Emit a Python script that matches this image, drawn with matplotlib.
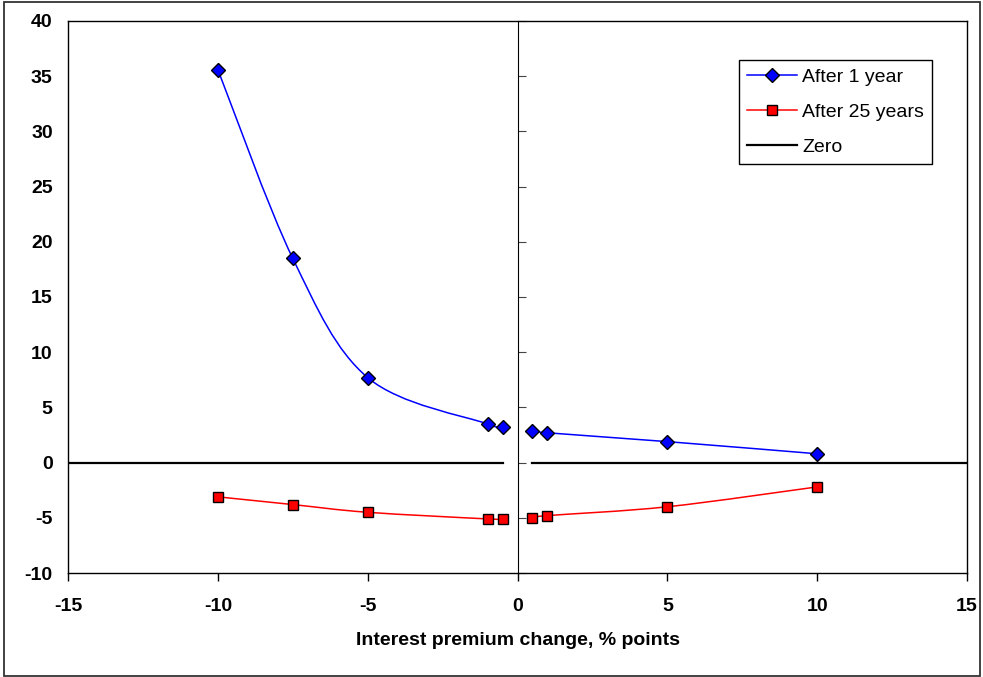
import numpy as np
import matplotlib
matplotlib.use('Agg')
import matplotlib.pyplot as plt
from matplotlib.path import Path
from matplotlib.patches import PathPatch, Rectangle
from matplotlib.lines import Line2D

plt.rcParams['font.family'] = ['Liberation Sans', 'DejaVu Sans']

# 数据
premium_change = [-10, -7.5, -5, -1, -0.5, 0, 0.5, 1, 5, 10]
after_1_year = [35.6, 18.5, 7.7, 3.5, 3.2, np.nan, 2.9, 2.7, 1.9, 0.8]
after_25_years = [-3.1, -3.8, -4.5, -5.1, -5.1, np.nan, -5.0, -4.8, -4.0, -2.2]
zero_x = [-15, -0.5, 0, 0.5, 15]
zero_y = [0, 0, np.nan, 0, 0]

x_ticks = [-15, -10, -5, 0, 5, 10, 15]
y_ticks = [-10, -5, 0, 5, 10, 15, 20, 25, 30, 35, 40]


def smooth_path(xs, ys):
    """Excel风格平滑曲线（Bezier），按NaN分段"""
    verts, codes = [], []
    xs = np.asarray(xs, float)
    ys = np.asarray(ys, float)
    ok = ~np.isnan(ys)
    segs, cur = [], []
    for i in range(len(xs)):
        if ok[i]:
            cur.append((xs[i], ys[i]))
        elif cur:
            segs.append(cur)
            cur = []
    if cur:
        segs.append(cur)
    for pts in segs:
        pts = np.array(pts)
        n = len(pts)
        verts.append(tuple(pts[0]))
        codes.append(Path.MOVETO)
        for i in range(n - 1):
            p0 = pts[max(i - 1, 0)]
            p1 = pts[i]
            p2 = pts[i + 1]
            p3 = pts[min(i + 2, n - 1)]
            c1 = p1 + (p2 - p0) / 6.0
            c2 = p2 - (p3 - p1) / 6.0
            verts += [tuple(c1), tuple(c2), tuple(p2)]
            codes += [Path.CURVE4] * 3
    return Path(verts, codes)


fig = plt.figure(figsize=(9.83, 6.77), dpi=100)
ax = fig.add_axes([0.0692, 0.1536, 0.9145, 0.8154])

# 零线
ax.plot(zero_x, zero_y, color='black', lw=1.6, zorder=2)

# 平滑曲线
ax.add_patch(PathPatch(smooth_path(premium_change, after_1_year), fill=False,
                       edgecolor='#0000FF', lw=1.1, zorder=3))
ax.add_patch(PathPatch(smooth_path(premium_change, after_25_years), fill=False,
                       edgecolor='#FF0000', lw=1.1, zorder=3))

# 数据点
ax.plot(premium_change, after_1_year, ls='none', marker='D', ms=7,
        mfc='#0000FF', mec='black', mew=1.0, zorder=4)
ax.plot(premium_change, after_25_years, ls='none', marker='s', ms=7,
        mfc='#FF0000', mec='black', mew=1.0, zorder=4)

ax.set_xlim(-15, 15)
ax.set_ylim(-10, 40)
ax.set_xticks(x_ticks)
ax.set_yticks(y_ticks)
ax.set_xticklabels([str(t) for t in x_ticks], fontsize=14, fontweight='bold')
ax.set_yticklabels([str(t) for t in y_ticks], fontsize=14, fontweight='bold')
ax.tick_params(axis='x', direction='out', length=6, width=1, pad=12)
ax.tick_params(axis='y', length=0, pad=11)
for s in ax.spines.values():
    s.set_linewidth(1.0)
    s.set_color('black')

# x=0处的纵轴及刻度
sec = ax.secondary_yaxis(0.5)
sec.set_yticks(y_ticks)
sec.set_yticklabels([])
sec.tick_params(direction='out', length=6, width=0.8, colors='#444444')
sec.spines['left'].set_color('#555555')
sec.spines['left'].set_linewidth(1.0)

ax.set_xlabel('Interest premium change, % points', fontsize=14, fontweight='bold',
              labelpad=12)

handles = [
    Line2D([], [], color='#0000FF', lw=1.1, marker='D', ms=7, mfc='#0000FF', mec='black'),
    Line2D([], [], color='#FF0000', lw=1.1, marker='s', ms=7, mfc='#FF0000', mec='black'),
    Line2D([], [], color='black', lw=1.6),
]
leg = ax.legend(handles, ['After 1 year', 'After 25 years', 'Zero'],
                loc='upper right', bbox_to_anchor=(0.961, 0.929), borderaxespad=0,
                fontsize=14, fancybox=False, edgecolor='black', framealpha=1,
                handlelength=2.6, handletextpad=0.25, labelspacing=0.9,
                borderpad=0.4)
leg.get_frame().set_linewidth(1.0)

# 外框
fig.patches.append(Rectangle((0.004, 0.002), 0.993, 0.995, transform=fig.transFigure,
                             fill=False, edgecolor='#333333', lw=1.3))

fig.savefig('out.png', dpi=100)
plt.close(fig)
